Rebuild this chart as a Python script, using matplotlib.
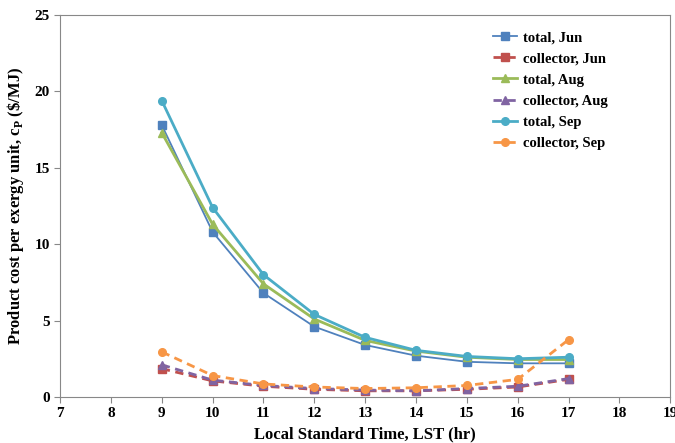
import matplotlib
matplotlib.use("Agg")
import matplotlib.pyplot as plt

plt.rcParams['font.family'] = ['Liberation Serif', 'DejaVu Serif']
plt.rcParams['font.weight'] = 'bold'

hours = [9, 10, 11, 12, 13, 14, 15, 16, 17]
total_jun = [17.8, 10.8, 6.8, 4.6, 3.4, 2.7, 2.3, 2.2, 2.2]
coll_jun = [1.85, 1.05, 0.7, 0.5, 0.4, 0.4, 0.5, 0.65, 1.15]
total_aug = [17.3, 11.3, 7.4, 5.1, 3.7, 3.0, 2.6, 2.45, 2.45]
coll_aug = [2.1, 1.1, 0.75, 0.55, 0.45, 0.4, 0.55, 0.7, 1.2]
total_sep = [19.4, 12.4, 8.0, 5.4, 3.9, 3.05, 2.65, 2.5, 2.6]
coll_sep = [2.95, 1.4, 0.85, 0.65, 0.55, 0.6, 0.75, 1.15, 3.75]

series = [
    ("total, Jun", total_jun, "#4F81BD", "s", "-", 1.3),
    ("collector, Jun", coll_jun, "#C0504D", "s", "--", 2.0),
    ("total, Aug", total_aug, "#9BBB59", "^", "-", 2.0),
    ("collector, Aug", coll_aug, "#8064A2", "^", "--", 2.0),
    ("total, Sep", total_sep, "#4BACC6", "o", "-", 2.0),
    ("collector, Sep", coll_sep, "#F79646", "o", "--", 2.0),
]

fig = plt.figure(figsize=(6.75, 4.43), dpi=100)
ax = fig.add_axes([0.089, 0.104, 0.904, 0.862])

for label, vals, color, marker, ls, lw in series:
    ax.plot(hours, vals, color=color, marker=marker, linestyle=ls, linewidth=lw,
            markersize=5.5, label=label, dashes=(3, 2) if ls == "--" else (None, None))

ax.set_xlim(7, 19)
ax.set_ylim(0, 25)
ax.set_xticks(range(7, 20))
ax.set_yticks(range(0, 26, 5))
for s in ax.spines.values():
    s.set_color("#888888")
ax.tick_params(colors="#888888", labelcolor="black", labelsize=11, length=4)
ax.set_xlabel("Local Standard Time, LST (hr)", fontsize=12, fontweight="bold", labelpad=4)
ax.set_ylabel("Product cost per exergy unit, c$_\\mathregular{P}$ (\\$/MJ)", fontsize=12,
              fontweight="bold", labelpad=6)

ax.legend(loc="upper left", bbox_to_anchor=(0.703, 0.97), frameon=False, fontsize=10.5,
          handlelength=1.6, handletextpad=0.4, labelspacing=0.55, borderaxespad=0,
          borderpad=0.3)

fig.savefig("out.png", dpi=100)
